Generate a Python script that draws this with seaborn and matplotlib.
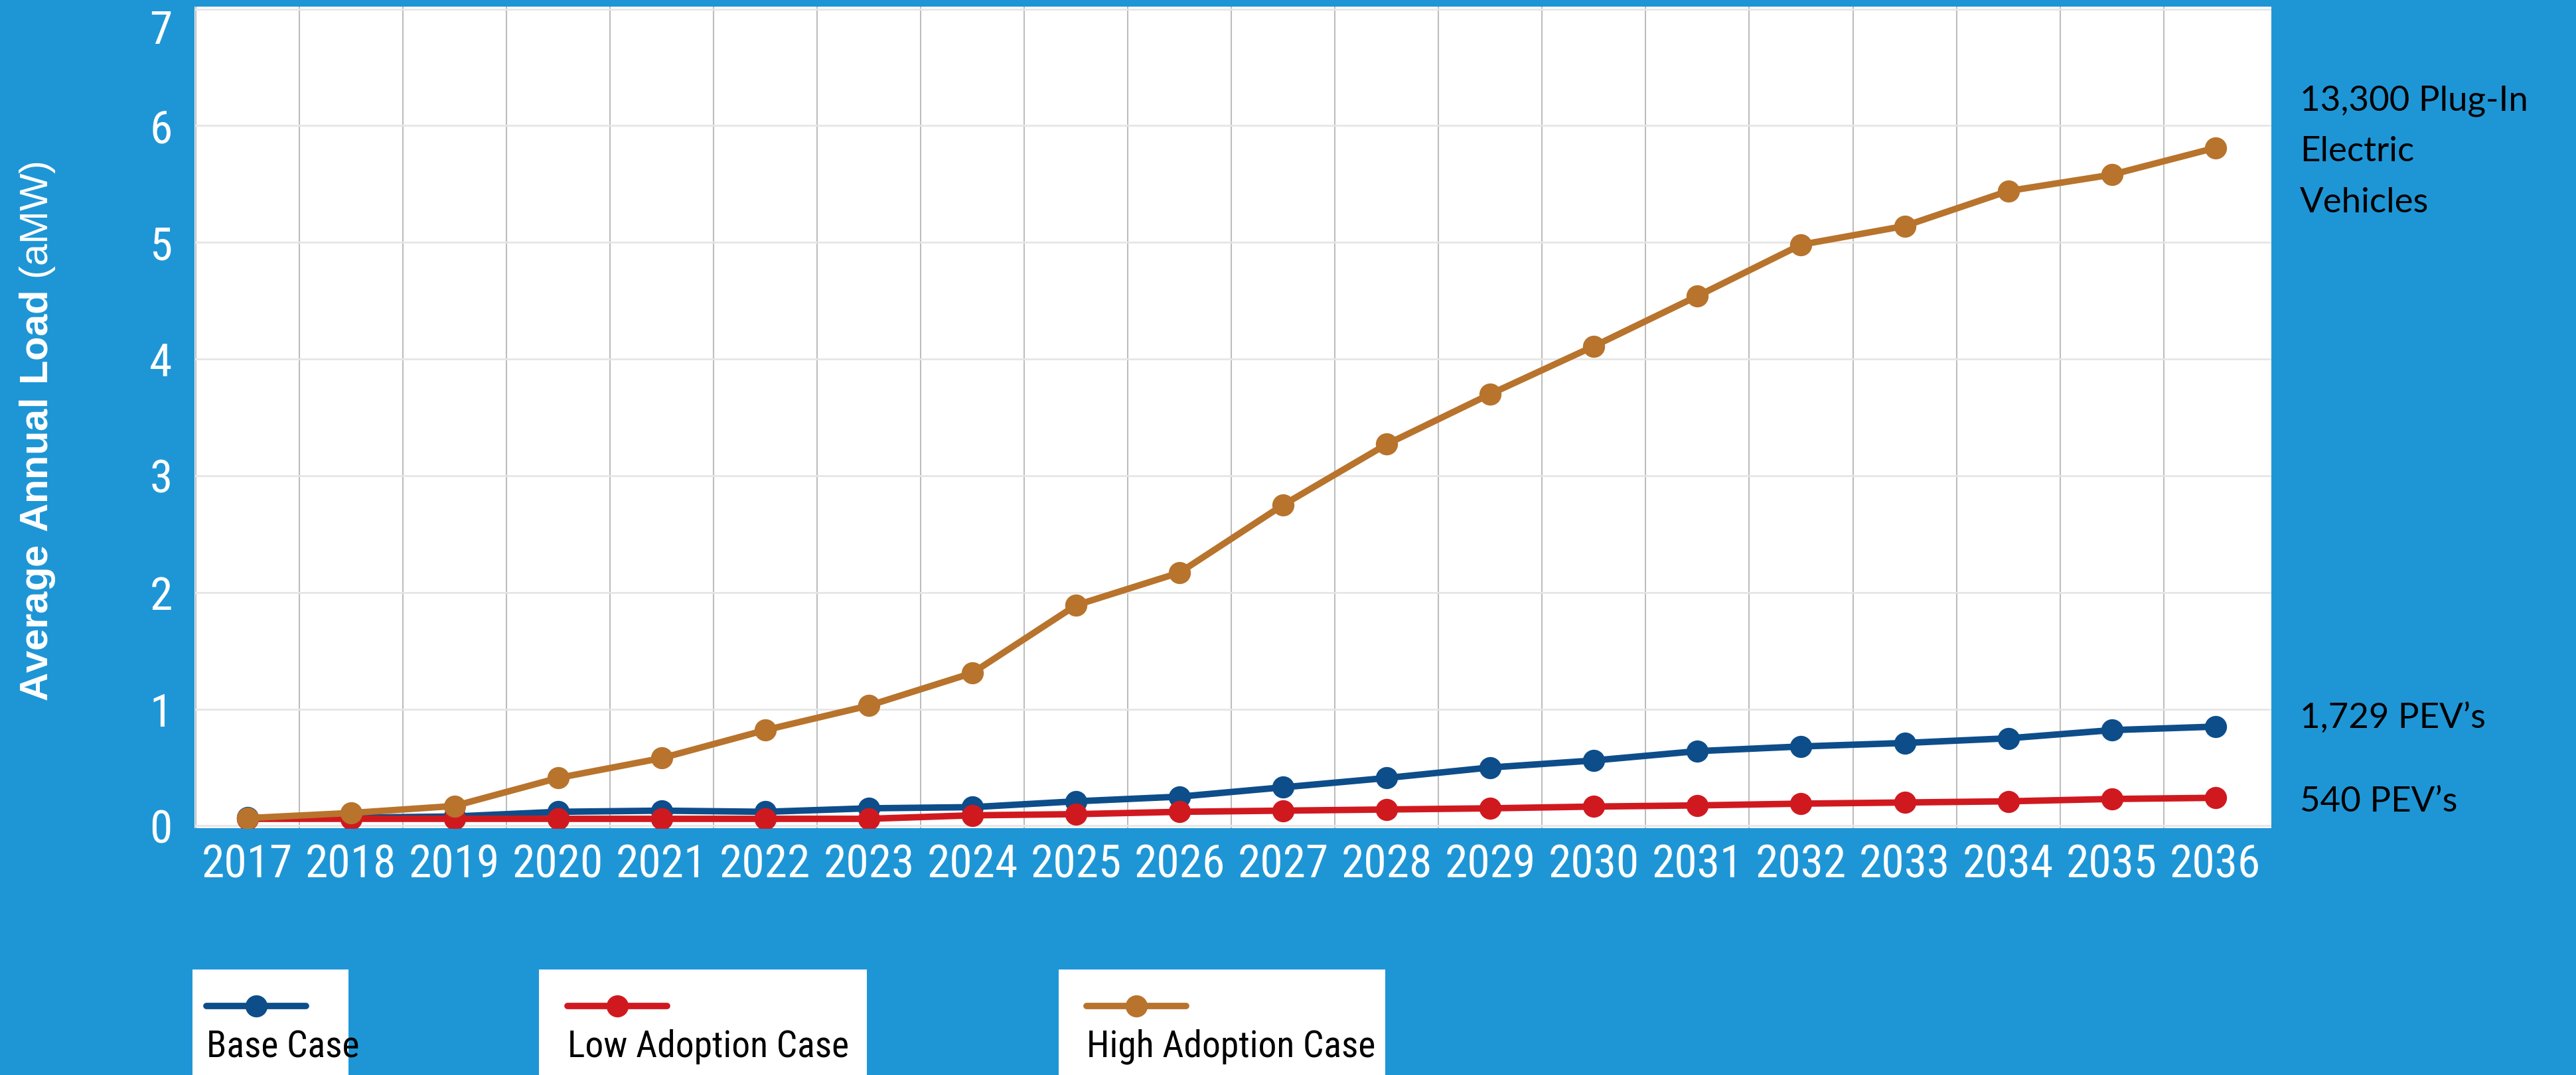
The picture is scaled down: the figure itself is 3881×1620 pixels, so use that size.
import matplotlib
matplotlib.use('Agg')

import matplotlib.pyplot as plt
from matplotlib import font_manager as fm
from matplotlib.patches import Rectangle
from matplotlib.lines import Line2D
import seaborn as sns
import pandas as pd

# --- data (aMW) ---
years = list(range(2017, 2037))
base_case = [0.07, 0.07, 0.08, 0.12, 0.13, 0.12, 0.15, 0.16, 0.21, 0.25,
             0.33, 0.41, 0.50, 0.56, 0.64, 0.68, 0.71, 0.75, 0.82, 0.85]
low_case = [0.06, 0.06, 0.06, 0.06, 0.06, 0.06, 0.06, 0.09, 0.10, 0.12,
            0.13, 0.14, 0.15, 0.165, 0.175, 0.19, 0.20, 0.21, 0.23, 0.24]
high_case = [0.066, 0.11, 0.17, 0.41, 0.58, 0.82, 1.03, 1.31, 1.89, 2.17,
             2.75, 3.27, 3.70, 4.11, 4.54, 4.98, 5.14, 5.44, 5.58, 5.81]
series_names = ['Base Case', 'Low Adoption Case', 'High Adoption Case']
y_ticks = [0, 1, 2, 3, 4, 5, 6, 7]
side_notes = ['13,300 Plug-In', 'Electric', 'Vehicles', '1,729 PEV\u2019s', '540 PEV\u2019s']

colores = ['#0d4d8a', '#d0191f', '#b8732c']
fondo = '#1e96d6'

df = pd.DataFrame({
    'Year': years * 3,
    'Load': base_case + low_case + high_case,
    'Case': [series_names[0]] * 20 + [series_names[1]] * 20 + [series_names[2]] * 20,
})


def buscar_condensada():
    """Busca una fuente sans estrecha instalada (Narrow / Condensed)."""
    candidatas = []
    for f in fm.fontManager.ttflist:
        nombre = f.name.lower()
        estirado = str(f.stretch).lower()
        es_estrecha = ('narrow' in nombre or 'condensed' in nombre or 'cond' in estirado
                       or 'narrow' in f.fname.lower() or 'condensed' in f.fname.lower())
        if not es_estrecha or f.style != 'normal':
            continue
        if 'mono' in nombre or 'serif' in nombre and 'sans' not in nombre:
            continue
        peso = f.weight if isinstance(f.weight, int) else 400
        if peso != 400:
            continue
        prioridad = 0 if 'liberation' in nombre else 1 if 'roboto' in nombre else 2
        candidatas.append((prioridad, f.fname))
    if candidatas:
        candidatas.sort()
        return fm.FontProperties(fname=candidatas[0][1])
    return None


W, H = 3881, 1620
sns.set_style('white')
plt.rcParams['font.family'] = ['Liberation Sans', 'DejaVu Sans']
plt.rcParams['mathtext.fontset'] = 'custom'
plt.rcParams['mathtext.rm'] = 'Liberation Sans'
plt.rcParams['mathtext.bf'] = 'Liberation Sans:bold'

fuente_estrecha = buscar_condensada()
if fuente_estrecha is None:
    fuente_estrecha = fm.FontProperties(family=['Liberation Sans', 'DejaVu Sans'])
    tam_ticks, tam_leyenda = 40, 33
else:
    tam_ticks, tam_leyenda = 50, 40

fig = plt.figure(figsize=(W / 100, H / 100), dpi=100, facecolor=fondo)
ax = fig.add_axes([293 / W, 1 - 1248 / H, (3422 - 293) / W, (1248 - 10) / H])
ax.set_facecolor('white')

sns.lineplot(data=df, x='Year', y='Load', hue='Case', hue_order=series_names,
             palette=colores, marker='o', markersize=24, markeredgewidth=0,
             linewidth=7, legend=False, ax=ax)

ax.set_xlim(2016.49, 2036.54)
ax.set_ylim(-0.02, 7.02)
ax.set_xticks(years)
ax.set_xticks([y + 0.5 for y in years[:-1]] + [2016.5], minor=True)
ax.set_yticks(y_ticks)
ax.grid(False)
ax.grid(which='minor', axis='x', color='#bdbdbd', linewidth=1.5)
ax.grid(which='major', axis='y', color='#e6e6e6', linewidth=2)
ax.set_axisbelow(True)
for s in ax.spines.values():
    s.set_visible(False)
ax.tick_params(axis='both', which='both', length=0, colors='white')
ax.tick_params(axis='x', pad=16)
ax.tick_params(axis='y', pad=24)
for lab in ax.get_xticklabels() + ax.get_yticklabels():
    lab.set_fontproperties(fuente_estrecha)
    lab.set_fontsize(tam_ticks)
ax.get_yticklabels()[-1].set_verticalalignment('top')
ax.set_xlabel('')
ax.set_ylabel('')

# eje Y: parte en negrita + unidad
fig.text(57 / W, 1 - 650 / H, r'$\mathbf{Average\ Annual\ Load}$ (aMW)',
         rotation=90, ha='center', va='center', color='white', fontsize=43)

# notas a la derecha (línea base de cada renglón en píxeles)
notas_y = [167, 243, 320, 1097, 1223]
for txt, yb in zip(side_notes, notas_y):
    fig.text(3465 / W, 1 - yb / H, txt, ha='left', va='baseline',
             color='black', fontsize=38, family=['Lato', 'DejaVu Sans'])

# leyenda en cajas blancas
cajas = [(290, 525, 21), (812, 1306, 43), (1595, 2087, 42)]
for (x0, x1, off), nombre, col in zip(cajas, series_names, colores):
    fig.patches.append(Rectangle((x0 / W, 0), (x1 - x0) / W, (H - 1461) / H,
                                 transform=fig.transFigure, facecolor='white',
                                 edgecolor='none'))
    lx0 = x0 + off
    fig.lines.append(Line2D([lx0 / W, (lx0 + 150) / W], [1 - 1516 / H] * 2,
                            transform=fig.transFigure, color=col, linewidth=7))
    fig.lines.append(Line2D([(lx0 + 75) / W], [1 - 1516 / H], transform=fig.transFigure,
                            color=col, marker='o', markersize=24, markeredgewidth=0))
    t = fig.text(lx0 / W, 1 - 1593 / H, nombre, ha='left', va='baseline', color='black')
    t.set_fontproperties(fuente_estrecha)
    t.set_fontsize(tam_leyenda)

fig.savefig('out.png', dpi=100, facecolor=fondo)
